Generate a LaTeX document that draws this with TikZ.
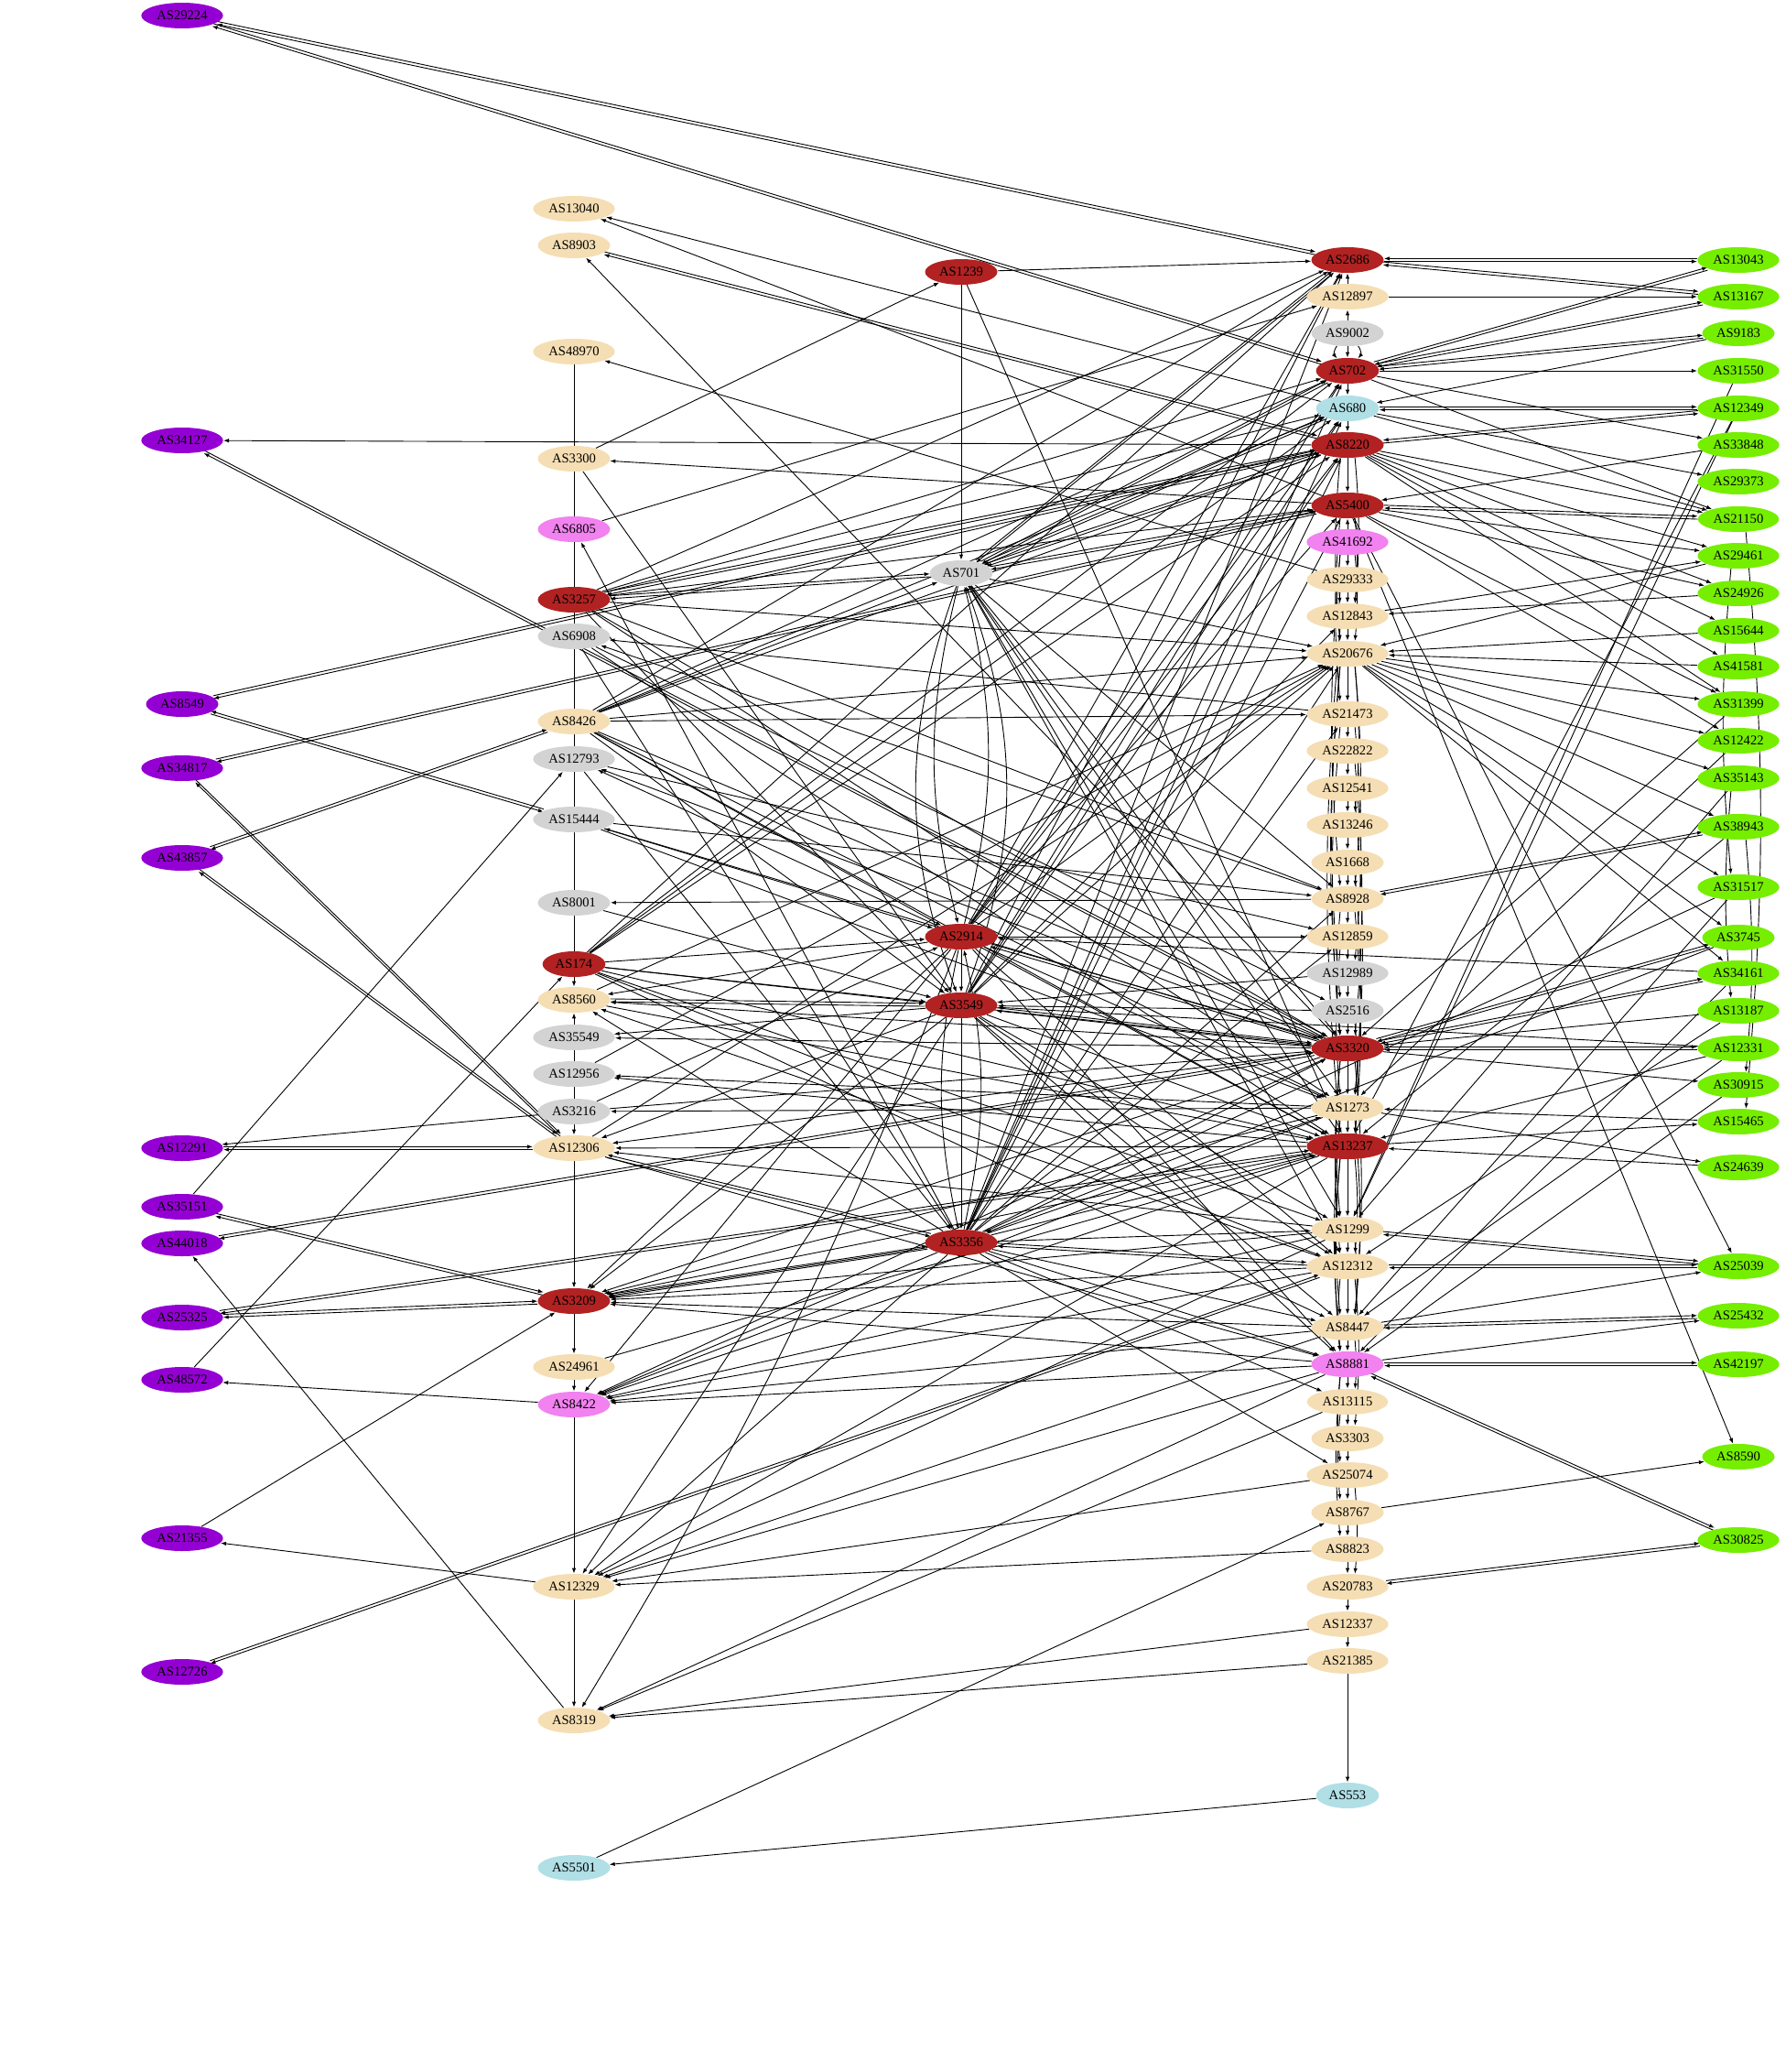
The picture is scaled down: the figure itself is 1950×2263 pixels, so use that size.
\documentclass[tikz,border=0pt]{standalone}
\usepackage{fontspec}
\setmainfont{Liberation Serif}
\usetikzlibrary{arrows.meta,shapes.geometric}
\pgfdeclarelayer{back}
\pgfdeclarelayer{bg}
\pgfsetlayers{back,bg,main}
\definecolor{cpur}{HTML}{9400D3}
\definecolor{cred}{HTML}{B22222}
\definecolor{cwheat}{HTML}{F5DEB3}
\definecolor{cgray}{HTML}{D3D3D3}
\definecolor{cblue}{HTML}{B0DFE6}
\definecolor{cviol}{HTML}{F282F0}
\definecolor{cgreen}{HTML}{76EE00}
\begin{document}
\begin{tikzpicture}[x=0.5pt,y=-0.5pt,
  nd/.style={ellipse, draw=none, inner xsep=2pt, inner ysep=1pt, minimum height=14pt, font=\fontsize{7.3}{8}\selectfont},
  e/.style={draw=black, line width=0.45pt, -{Latex[length=3pt,width=2.2pt]}},
  ln/.style={draw=black, line width=0.45pt}]
\begin{pgfonlayer}{back}
\fill[white] (0,0) rectangle (1950,2263);
\end{pgfonlayer}
\useasboundingbox (0,0) rectangle (1950,2263);
% ---------- nodes ----------
\foreach \n/\y in {29224/17,34127/481,8549/769,34817/839,43857/937,12291/1254,35151/1318,44018/1358,25325/1439,48572/1507,21355/1680,12726/1826}
  \node[nd,fill=cpur] (n\n) at (199,\y) {AS\n};
\foreach \n/\y in {13040/228,8903/268,48970/384,3300/501,8426/788,8560/1092,12306/1254,24961/1493,12329/1733,8319/1879}
  \node[nd,fill=cwheat] (n\n) at (627,\y) {AS\n};
\foreach \n/\y in {6805/578,8422/1534}
  \node[nd,fill=cviol] (n\n) at (627,\y) {AS\n};
\foreach \n/\y in {3257/655,174/1053,3209/1421}
  \node[nd,fill=cred] (n\n) at (627,\y) {AS\n};
\foreach \n/\y in {6908/695,12793/829,15444/895,8001/986,35549/1133,12956/1173,3216/1214}
  \node[nd,fill=cgray] (n\n) at (627,\y) {AS\n};
\node[nd,fill=cblue] (n5501) at (627,2040) {AS5501};
\foreach \n/\y in {1239/297,2914/1023,3549/1098,3356/1357}
  \node[nd,fill=cred] (n\n) at (1050,\y) {AS\n};
\node[nd,fill=cgray] (n701) at (1050,626) {AS701};
\foreach \n/\y in {2686/284,702/405,8220/486,5400/552,3320/1145,13237/1252}
  \node[nd,fill=cred] (n\n) at (1472,\y) {AS\n};
\foreach \n/\y in {12897/324,29333/633,12843/673,20676/714,21473/780,22822/820,12541/861,13246/901,1668/942,8928/982,12859/1023,1273/1210,1299/1343,12312/1383,8447/1450,13115/1531,3303/1571,25074/1611,8767/1652,8823/1692,20783/1733,12337/1774,21385/1814}
  \node[nd,fill=cwheat] (n\n) at (1472,\y) {AS\n};
\foreach \n/\y in {9002/364,12989/1063,2516/1104}
  \node[nd,fill=cgray] (n\n) at (1472,\y) {AS\n};
\foreach \n/\y in {680/446,553/1961}
  \node[nd,fill=cblue] (n\n) at (1472,\y) {AS\n};
\foreach \n/\y in {41692/592,8881/1490}
  \node[nd,fill=cviol] (n\n) at (1472,\y) {AS\n};
\foreach \n/\y in {13043/284,13167/324,9183/364,31550/405,12349/446,33848/486,29373/526,21150/567,29461/607,24926/648,15644/689,41581/728,31399/769,12422/809,35143/850,38943/903,31517/969,3745/1024,34161/1063,13187/1104,12331/1145,30915/1185,15465/1225,24639/1275,25039/1383,25432/1437,42197/1490,8590/1591,30825/1682}
  \node[nd,fill=cgreen] (n\n) at (1899,\y) {AS\n};
% ---------- edges ----------
\begin{pgfonlayer}{bg}
% plain vertical lines in second column
\foreach \a/\b in {48970/3300,3300/6805,6805/3257,3257/6908,6908/8426,8426/12793,12793/15444,15444/8001,8001/174,35549/12956,12956/3216}
  \draw[ln] (n\a) -- (n\b);
% single directed edges
\foreach \a/\b in {8220/34127,3216/12291,35151/12793,8319/44018,48572/174,8422/48572,21355/3209,12329/21355,
  174/8560,35549/8560,3216/12306,12306/3209,3209/24961,24961/8422,8422/12329,12329/8319,
  3300/1239,680/13040,5400/13040,3320/8903,29333/48970,5400/3300,3300/3549,6805/12897,3356/6805,
  3257/2686,3257/702,3257/680,3257/5400,3257/8928,3257/3320,3257/1273,3257/20676,3257/3549,
  8928/6908,21473/6908,6908/2516,6908/3356,6908/13237,
  8426/2686,8426/702,8426/680,8426/8220,8426/701,8426/21473,8426/20676,8426/2914,8426/3549,8426/13237,8426/1273,8426/3320,
  2914/12793,3320/12793,12793/12859,12793/3356,
  3320/15444,15444/2914,15444/1273,15444/8928,
  8928/8001,8001/3549,
  174/2914,174/3549,174/3320,174/13237,174/2686,174/8220,174/702,174/12312,174/8447,174/680,174/1299,
  2914/8560,3320/8560,8560/13237,3356/8560,8560/20676,12312/8560,
  3549/35549,3320/35549,
  1273/12956,13237/12956,12956/20676,
  1273/3216,3216/2914,3216/3320,
  13237/12306,3549/12306,3320/12306,1299/12306,12306/8881,12306/20676,
  3356/3209,3320/3209,13237/3209,1299/3209,12312/3209,8447/3209,8881/3209,3549/3209,2914/3209,1273/3209,
  24961/13237,
  3356/8422,3320/8422,13237/8422,1299/8422,12312/8422,8447/8422,8881/8422,2914/8422,1273/8422,
  3549/12329,3356/12329,1299/12329,8447/12329,8881/12329,8823/12329,25074/12329,13237/12329,
  12337/8319,21385/8319,8881/8319,13115/8319,
  553/5501,5501/8767,21385/553}
  \draw[e] (n\a) -- (n\b);
\foreach \a/\b in {1239/2686,1239/701,1239/13237,
  701/20676,701/8928,701/3320,701/1273,701/13237,701/12312,701/1299,
  2914/2686,2914/702,2914/8220,2914/12859,2914/3549,2914/1273,2914/13237,2914/8881,2914/20676,2914/12312,2914/680,2914/5400,
  3549/13237,3549/1299,3549/12312,3549/8447,3549/8881,3549/3356,12989/3549,2516/3549,3549/8220,3549/702,3549/20676,3549/2686,3549/680,3549/12843,
  3356/2686,3356/702,3356/680,3356/8220,3356/5400,3356/20676,3356/3320,3356/13237,3356/1299,3356/8447,3356/8881,3356/13115,3356/1273,3356/21473,3356/8928,3356/12859,3356/25074}
  \draw[e] (n\a) -- (n\b);
\foreach \a/\b in {12897/13167,702/31550,9183/680,702/33848,680/29373,8220/21150,33848/5400,8220/29461,8220/24926,8220/15644,8220/41581,8220/31399,
  5400/29461,5400/24926,5400/31399,5400/12422,680/21150,702/21150,12349/13237,31550/1299,24926/12843,15644/20676,41581/20676,29461/20676,
  20676/31399,20676/12422,20676/35143,20676/3745,20676/34161,20676/38943,12843/29461,20676/31517,3320/30915,13187/3320,15465/1273,1273/24639,
  12331/13237,13237/15465,24639/13237,8447/25039,8881/25432,8767/8590,5400/25039,5400/8590,
  35143/1299,31517/8447,34161/8881,13187/12312,12331/8447,30915/8881,12422/1273,38943/13237,31399/3320,12349/1299,
  3745/3356,31517/3356,34161/2914,12331/3549}
  \draw[e] (n\a) -- (n\b);
% edges in both directions
\foreach \a/\b in {29224/2686,29224/702,34127/3320,8549/8220,15444/8549,34817/5400,34817/12306,43857/8426,43857/12306,12291/12306,35151/3209,44018/3320,25325/3209,25325/13237,12726/12312,
  8903/8220,3257/8220,3257/701,8560/3549,3356/12306,3209/3356,
  701/2686,701/702,701/680,701/8220,701/5400,2914/3320,3549/3320,3356/12312,
  13043/2686,2686/13167,702/13043,702/13167,702/9183,680/12349,12349/8220,5400/21150,8928/38943,3320/3745,3320/34161,3320/12331,12312/25039,8447/25432,8881/42197,8881/30825,20783/30825,1299/25039}
  {\draw[e,transform canvas={yshift=0.8pt}] (n\a) -- (n\b);
   \draw[e,transform canvas={yshift=-0.8pt}] (n\b) -- (n\a);}
% chain of the fourth column
\foreach \a/\b in {12897/2686,9002/12897,9002/702,702/680,680/8220,8220/5400,41692/5400,41692/29333,29333/12843,12843/20676,20676/21473,21473/22822,22822/12541,12541/13246,13246/1668,1668/8928,8928/12859,12859/12989,12989/2516,2516/3320,3320/1273,1273/13237,13237/1299,1299/12312,12312/8447,8447/8881,8881/13115,13115/3303,3303/25074,25074/8767,8767/8823,8823/20783,20783/12337,12337/21385}
  \draw[e] (n\a) -- (n\b);
\draw[e] (n9002) to[bend right=40] (n702);
\draw[e] (n9002) to[bend left=40] (n702);
% curves along the fourth column
\foreach \a/\b in {8220/20676,5400/21473,41692/8928,29333/20676,20676/2516,20676/3320,21473/3320,12843/13237,8928/3320,12859/1273,3320/1299,3320/12312,13237/8447,13237/8881,1273/8881,12312/8881,8881/25074,13115/8767,8881/8823,41692/12843}
  \draw[e] (n\a.240) to[out=-95,in=95] (n\b.120);
\foreach \a/\b in {5400/12843,41692/20676,20676/13246,20676/8928,21473/12989,22822/3320,8928/13237,12541/1273,1668/1273,2516/13237,3320/8447,13237/12312,1273/8447,1299/8447,8447/13115,12312/3303,25074/20783,8220/12843}
  \draw[e] (n\a.300) to[out=-85,in=85] (n\b.60);
% curves along the green column
\draw[e] (n21150.300) to[out=-85,in=85] (n15465.60);
\draw[e] (n38943.300) to[out=-85,in=85] (n30915.60);
\draw[e] (n35143.240) to[out=-95,in=95] (n13187.120);
\draw[e] (n29461.240) to[out=-95,in=95] (n31517.120);
% arcs of the third column
\draw[e] (n701) to[bend right=14] (n2914);
\draw[e] (n2914) to[bend right=14] (n701);
\draw[e] (n701) to[bend right=20] (n3549);
\draw[e] (n3549) to[bend right=20] (n701);
\draw[e] (n2914) to[bend right=12] (n3356);
\draw[e] (n3356) to[bend right=12] (n2914);
\draw[e] (n2914) to[bend left=5] (n8319);
\end{pgfonlayer}
\end{tikzpicture}
\end{document}
